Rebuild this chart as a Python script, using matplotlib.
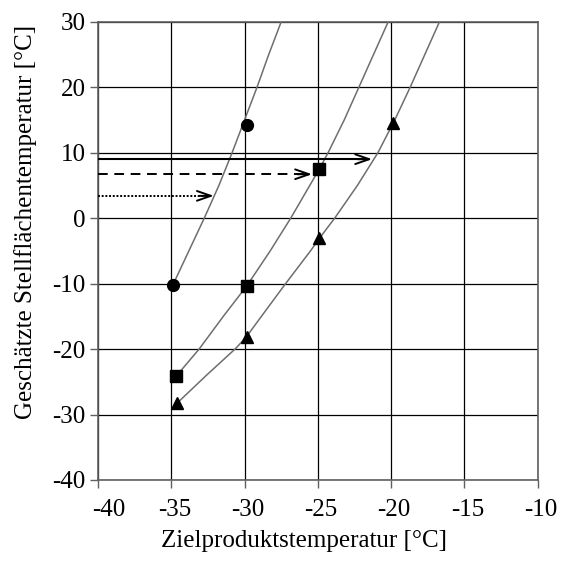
import matplotlib
matplotlib.use("Agg")
import matplotlib.pyplot as plt
from matplotlib.transforms import ScaledTranslation

# Marker data
circ_x = [-34.9, -29.85]
circ_y = [-10.25, 14.2]
sq_x = [-34.65, -29.85, -24.9]
sq_y = [-24.1, -10.35, 7.5]
tri_x = [-34.6, -29.85, -24.9, -19.9]
tri_y = [-28.25, -18.2, -3.1, 14.6]

# Curve points
circ_cx = [-34.9, -33.8, -32.75, -31.75, -30.85, -30.0, -29.15, -28.35, -27.5]
circ_cy = [-10.25, -5.0, 0.0, 5.0, 10.0, 15.0, 20.0, 25.0, 30.0]
sq_cx = [-34.65, -33.1, -31.45, -29.85, -28.25, -26.85, -25.55, -24.9, -24.3, -23.2, -22.2, -21.2, -20.2]
sq_cy = [-24.1, -20.0, -15.0, -10.35, -5.0, 0.0, 5.0, 7.5, 10.0, 15.0, 20.0, 25.0, 30.0]
tri_cx = [-34.6, -32.6, -30.65, -29.9, -28.85, -27.2, -25.5, -24.9, -23.85, -22.3, -20.9, -19.75, -18.7, -17.7, -16.7]
tri_cy = [-28.25, -24.0, -20.0, -18.2, -15.0, -10.0, -5.0, -3.1, 0.0, 5.0, 10.0, 15.0, 20.0, 25.0, 30.0]

# Arrows
arrow_y = [9.0, 6.7, 3.4]
arrow_end = [-21.3, -25.4, -32.1]
arrow_ls = ["-", (0, (5, 3.4)), (0, (1, 0.9))]

x_ticks = [-40, -35, -30, -25, -20, -15, -10]
y_ticks = [-40, -30, -20, -10, 0, 10, 20, 30]

plt.rcParams["font.family"] = ["Liberation Serif", "DejaVu Serif"]
plt.rcParams["axes.unicode_minus"] = False

fig = plt.figure(figsize=(5.62, 5.61), dpi=100)
ax = fig.add_axes([0.1744, 0.1444, 0.9568 - 0.1744, 0.9613 - 0.1444])

ax.set_xlim(-40, -10)
ax.set_ylim(-40, 30)
ax.set_xticks(x_ticks)
ax.set_yticks(y_ticks)
ax.grid(True, color="black", linewidth=0.9)
ax.set_axisbelow(True)

curve_color = "#6e6e6e"
for cx, cy in [(circ_cx, circ_cy), (sq_cx, sq_cy), (tri_cx, tri_cy)]:
    ax.plot(cx, cy, color=curve_color, lw=1.1, zorder=3)

ax.plot(circ_x, circ_y, "o", color="black", ms=8.5, zorder=5, clip_on=False)
ax.plot(sq_x, sq_y, "s", color="black", ms=8, zorder=5, clip_on=False)
ax.plot(tri_x, tri_y, "^", color="black", ms=9, zorder=5, clip_on=False)

for yv, xe, ls in zip(arrow_y, arrow_end, arrow_ls):
    lw = 1.5 if ls == "-" else 1.4
    ax.plot([-40, xe - 0.3], [yv, yv], color="black", lw=lw, linestyle=ls, zorder=4)
    ax.annotate("", xy=(xe, yv), xytext=(xe - 1.0, yv),
                arrowprops=dict(arrowstyle="->,head_length=1.0,head_width=0.35",
                                color="black", lw=1.4, shrinkA=0, shrinkB=0),
                zorder=4)

for s in ax.spines.values():
    s.set_color("#606060")
    s.set_linewidth(1.2)

ax.tick_params(direction="out", length=6, width=1, color="#606060",
               labelsize=18, pad=3)
ax.tick_params(axis="x", pad=8)

# slight horizontal offsets of x tick labels as in the reference
for i, lab in enumerate(ax.get_xticklabels()):
    dx = 11 if i == 0 else 3
    lab.set_transform(lab.get_transform() + ScaledTranslation(dx / 100, 0, fig.dpi_scale_trans))

ax.set_xlabel("Zielproduktstemperatur [°C]", fontsize=18)
ax.set_ylabel("Geschätzte Stellflächentemperatur [°C]", fontsize=18)
ax.xaxis.set_label_coords(0.469, -0.110)
ax.yaxis.set_label_coords(-0.138, 0.564)

fig.savefig("out.png", dpi=100)
